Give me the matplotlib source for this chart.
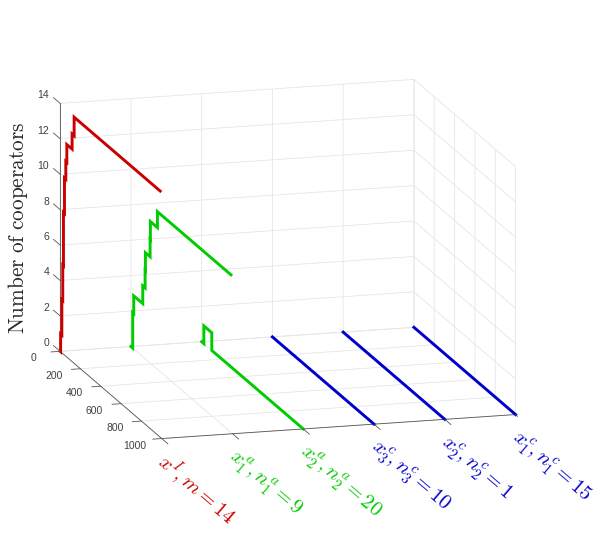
import numpy as np
import matplotlib
matplotlib.use('Agg')
import matplotlib.pyplot as plt
from mpl_toolkits.mplot3d import proj3d

plt.rcParams['mathtext.fontset']='cm'

# step times and levels of each run
t_red=[0,5,17,26,33,43,56,66,118,138,985]
z_red=[0,1,3,5,8,10,11,12,12.85,13.9,13.9]
t_green1=[0,18,28,117,140,143,189,192,258,261,985]
z_green1=[0,2,3,4,5,6,7,8,8,8.9,8.9]
t_green2=[0,22,100,1000]
z_green2=[0,1,0,0]
t_blue=[0,1000]
z_blue=[0,0]

positions=[1,2,3,4,5,6]
labels=[r'$x^{I}, m=14$',r'$x^{a}_{1}, n^{a}_{1}=9$',r'$x^{a}_{2}, n^{a}_{2}=20$',
        r'$x^{c}_{3}, n^{c}_{3}=10$',r'$x^{c}_{2}, n^{c}_{2}=1$',r'$x^{c}_{1}, n^{c}_{1}=15$']
t_ticks=[0,200,400,600,800,1000]
z_ticks=[0,2,4,6,8,10,12,14]
red='#cc0000'
green='#00cc00'
blue='#0000cc'
colors=[red,green,green,blue,blue,blue]
tick_col='#555555'
text_col='#404040'

fig=plt.figure(figsize=(5.98,5.35),dpi=100)
ax=fig.add_axes([45.1/598,33.3/535,472.7/598,472.7/535],projection='3d')
ax.set_proj_type('ortho')
ax.view_init(elev=13.96,azim=-105.7)
ax.set_box_aspect((367.7,375.8,255.6),zoom=1.2)

def steps(t,z):
    # stairs: hold each level until the next time
    tt=np.repeat(t,2)[1:]
    zz=np.repeat(z,2)[:-1]
    return tt,zz

runs=[(t_red,z_red),(t_green1,z_green1),(t_green2,z_green2),(t_blue,z_blue),(t_blue,z_blue),(t_blue,z_blue)]
for p,c,(t,z) in zip(positions,colors,runs):
    tt,zz=steps(t,z)
    ax.plot(np.full(len(tt),p),tt,zz,color=c,lw=2.1,solid_joinstyle='miter')

# matlab style ticks, mplot3d can't place them like this
for p in positions:
    ax.plot([p,p],[1000,1060],[0,0],color=tick_col,lw=0.6)
for t in t_ticks:
    ax.plot([1,1-0.127],[t,t],[0,0],color=tick_col,lw=0.6)
for z in z_ticks:
    ax.plot([1,1],[0,-65],[z,z],color=tick_col,lw=0.6)

ax.set_xlim(1,6,view_margin=0)
ax.set_ylim(1000,0,view_margin=0)
ax.set_zlim(0,14,view_margin=0)
ax.set_xticks(positions)
ax.set_yticks(t_ticks)
ax.set_zticks(z_ticks)
ax.set_xticklabels([])
ax.set_yticklabels([])
ax.set_zticklabels([])

for a in [ax.xaxis,ax.yaxis,ax.zaxis]:
    a.set_pane_color((1,1,1,0))
    a.pane.set_edgecolor('#e6e6e6')
    a.line.set_color(tick_col)
    a.line.set_linewidth(0.6)
    a._axinfo['grid']['color']='#e6e6e6'
    a._axinfo['grid']['linewidth']=0.6
    a._axinfo['tick']['outward_factor']=0
    a._axinfo['tick']['inward_factor']=0

# labels go on as 2d text at the projected spot
M=ax.get_proj()
def label(x,y,z,s,**kw):
    px,py,_=proj3d.proj_transform(x,y,z,M)
    ax.text2D(px,py,s,**kw)

for p,s,c in zip(positions,labels,colors):
    label(p-0.335,1220,0,s,color=c,fontsize=15,rotation=-40.6,ha='left',va='center',rotation_mode='anchor')
for t in t_ticks:
    label(1-0.375,t,-0.3,str(t),color=text_col,fontsize=7.5,family='Liberation Sans',ha='center',va='center')
for z in z_ticks:
    label(1-0.155,0,z+0.5,str(z),color=text_col,fontsize=7.5,family='Liberation Sans',ha='right',va='center')

fig.text(18.5/598,1-228/535,r'$\mathrm{Number\ of\ cooperators}$',rotation=90,fontsize=15.3,
         color='#262626',ha='center',va='center')
fig.savefig('out.png',dpi=100)
